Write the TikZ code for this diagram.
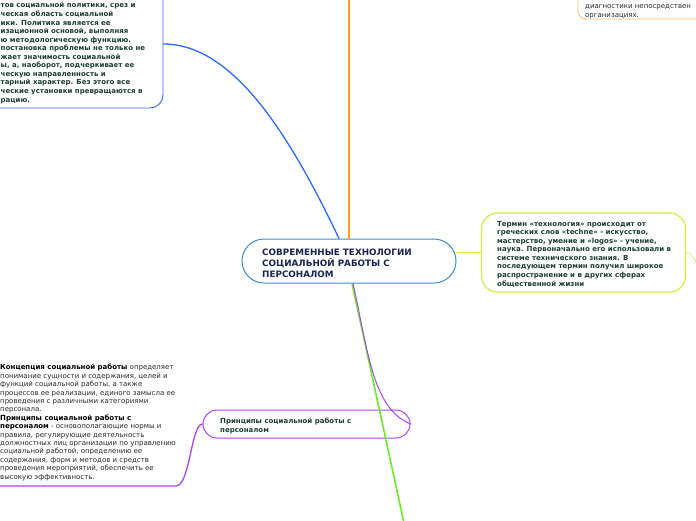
\documentclass[tikz,border=0pt]{standalone}
\usepackage{fontspec}
\setmainfont{DejaVu Sans}
\usetikzlibrary{calc}
\definecolor{tgreen}{RGB}{28,62,46}
\definecolor{tnavy}{RGB}{24,36,78}
\definecolor{cblue}{RGB}{61,139,205}
\definecolor{lblue}{RGB}{45,105,255}
\definecolor{lorange}{RGB}{248,160,30}
\definecolor{borange}{RGB}{255,190,110}
\definecolor{lgreen}{RGB}{102,238,34}
\definecolor{lpurple}{RGB}{176,66,245}
\definecolor{lyellow}{RGB}{212,238,60}
\definecolor{tgray}{RGB}{40,40,40}
\begin{document}
\begin{tikzpicture}[x=1pt,y=-1pt,
  boxn/.style={draw, inner sep=0pt, minimum width=#1},
  txtb/.style={inner sep=0pt, anchor=base west, align=left, text=tgreen,
    font=\fontsize{7.0}{8.55}\selectfont\bfseries},
  txtr/.style={inner sep=0pt, anchor=base west, align=left, text=tgray,
    font=\fontsize{7.0}{8.4}\selectfont},
  conn/.style={line width=#1, line cap=round}]
\useasboundingbox (0,0) rectangle (696,520);

% ---- boxes ----
\node[boxn=214pt, minimum height=44pt, rounded corners=22pt, draw=cblue, line width=1pt] (c) at (349,261) {};
\node[txtb, text=tnavy, font=\fontsize{8.8}{11}\selectfont\bfseries] (ct) at (262,277)
  {СОВРЕМЕННЫЕ ТЕХНОЛОГИИ\\СОЦИАЛЬНОЙ РАБОТЫ С\\ПЕРСОНАЛОМ};

\node[boxn=223pt, minimum height=128pt, rounded corners=13pt, draw=lblue, line width=0.9pt] (tl) at (51.5,44) {};
\node[txtb] (tlt) at (0.5,102)
  {тов социальной политики, срез и\\
   ческая область социальной\\
   ики. Политика является ее\\
   изационной основой, выполняя\\
   ю методологическую функцию.\\
   постановка проблемы не только не\\
   жает значимость социальной\\
   ы, а, наоборот, подчеркивает ее\\
   ческую направленность и\\
   тарный характер. Без этого все\\
   ческие установки превращаются в\\
   рацию.};

\node[boxn=182pt, minimum height=59pt, rounded corners=8pt, draw=borange, line width=0.9pt] (tr) at (669,-10.5) {};
\node[txtr] (trt) at (585,17) {диагностики непосредствен\\организациях.};

\node[boxn=204pt, minimum height=79pt, rounded corners=16pt, draw=lyellow, line width=1.2pt] (rt) at (583.5,252.5) {};
\node[txtb] (rtt) at (497,286)
  {Термин «технология» происходит от\\
   греческих слов «techne» - искусство,\\
   мастерство, умение и «logos» - учение,\\
   наука. Первоначально его использовали в\\
   системе технического знания. В\\
   последующем термин получил широкое\\
   распространение и в других сферах\\
   общественной жизни};

\node[boxn=207pt, minimum height=28pt, rounded corners=14pt, draw=lpurple, line width=1pt] (pr) at (306.5,424) {};
\node[txtb] (prt) at (220,432) {Принципы социальной работы с\\персоналом};

\node[txtr] (bl) at (0,479)
  {\textbf{\color{black}Концепция социальной работы} определяет\\
   понимание сущности и содержания, целей и\\
   функций социальной работы, а также\\
   процессов ее реализации, единого замысла ее\\
   проведения с различными категориями\\
   персонала.\\
   \textbf{\color{black}Принципы социальной работы с}\\
   \textbf{\color{black}персоналом} - основополагающие нормы и\\
   правила, регулирующие деятельность\\
   должностных лиц организации по управлению\\
   социальной работой, определению ее\\
   содержания, форм и методов и средств\\
   проведения мероприятий, обеспечить ее\\
   высокую эффективность.};

% ---- free ends ----
\coordinate (o) at (349,-3);
\coordinate (g) at (404,523);
\coordinate (ul) at (-3,486);
\coordinate (r2) at (699,268);

% ---- connectors ----
\draw[conn=2pt, lorange] (c.north) -- (o);
\draw[conn=1.3pt, lblue] ($(c.north)+(-10,0)$) .. controls (292,140) and (235,44) .. (tl.east);
\draw[conn=1.6pt, lgreen] ($(c.south)+(3,0)$) -- (g);
\draw[conn=1pt, lpurple] ($(c.south)+(4,0)$) .. controls (368,350) and (372,408) .. (pr.east);
\draw[conn=1.3pt, lpurple] (pr.west) .. controls (191,424) and (190,486) .. (176,486) -- (ul);
\draw[conn=0.6pt, lyellow] (c.east |- rt.west) -- (rt.west);
\draw[conn=0.6pt, lyellow] (rt.east) .. controls (691,252) and (694,258) .. (r2);
\end{tikzpicture}
\end{document}
